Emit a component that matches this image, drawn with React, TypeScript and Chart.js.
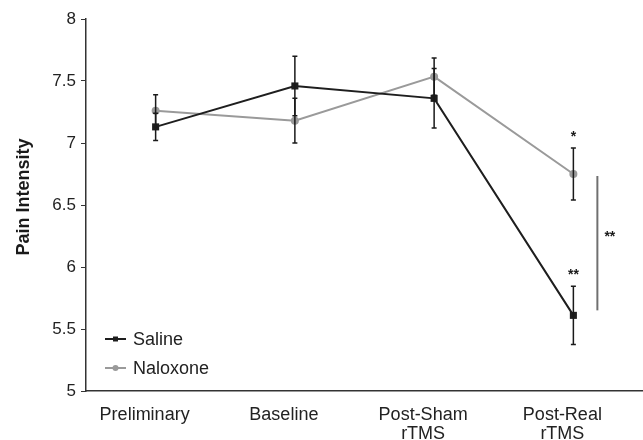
import React, { useEffect, useRef } from "react";
import { Chart, registerables } from "chart.js";

Chart.register(...registerables);

const categories: string[][] = [["Preliminary"], ["Baseline"], ["Post-Sham", "rTMS"], ["Post-Real", "rTMS"]];
const salineValues = [7.13, 7.46, 7.36, 5.61];
const salineErrors = [0.11, 0.24, 0.24, 0.235];
const naloxoneValues = [7.26, 7.18, 7.535, 6.75];
const naloxoneErrors = [0.13, 0.18, 0.15, 0.21];
const yMin = 5;
const yMax = 8;
const yStep = 0.5;
const seriesNames = ["Saline", "Naloxone"];
const starLabels = ["*", "**"]; // naloxone, saline marks at Post-Real
const bracketLabel = "**";
const axisTitle = "Pain Intensity";

const SALINE_COLOR = "#1e1e1e";
const NALOXONE_COLOR = "#9a9a9a";
const FONT = "'Liberation Sans', Arial, sans-serif";

const overlayPlugin = {
  id: "overlay",
  afterDatasetsDraw(chart: any) {
    const ctx = chart.ctx;
    const x = chart.scales.x;
    const y = chart.scales.y;
    const errs = [salineErrors, naloxoneErrors];
    const vals = [salineValues, naloxoneValues];
    ctx.save();
    // error bars
    ctx.strokeStyle = "#1a1a1a";
    ctx.lineWidth = 1.5;
    for (let s = 0; s < 2; s++) {
      for (let i = 0; i < categories.length; i++) {
        const px = x.getPixelForValue(i);
        const top = y.getPixelForValue(vals[s][i] + errs[s][i]);
        const bot = y.getPixelForValue(vals[s][i] - errs[s][i]);
        ctx.beginPath();
        ctx.moveTo(px, top);
        ctx.lineTo(px, bot);
        ctx.moveTo(px - 2.5, top);
        ctx.lineTo(px + 2.5, top);
        ctx.moveTo(px - 2.5, bot);
        ctx.lineTo(px + 2.5, bot);
        ctx.stroke();
      }
    }
    // significance marks
    const last = categories.length - 1;
    const lx = x.getPixelForValue(last);
    ctx.fillStyle = "#1a1a1a";
    ctx.font = `bold 14px ${FONT}`;
    ctx.textAlign = "center";
    ctx.textBaseline = "middle";
    const nalTop = y.getPixelForValue(naloxoneValues[last] + naloxoneErrors[last]);
    const salTop = y.getPixelForValue(salineValues[last] + salineErrors[last]);
    ctx.fillText(starLabels[0], lx, nalTop - 11);
    ctx.fillText(starLabels[1], lx, salTop - 11);
    // bracket line
    const y1 = y.getPixelForValue(naloxoneValues[last]) + 2;
    const y2 = y.getPixelForValue(salineValues[last]) - 5;
    ctx.strokeStyle = "#707070";
    ctx.lineWidth = 2;
    ctx.beginPath();
    ctx.moveTo(lx + 24, y1);
    ctx.lineTo(lx + 24, y2);
    ctx.stroke();
    ctx.textAlign = "left";
    ctx.fillText(bracketLabel, lx + 31, (y1 + y2) / 2 - 6);

    // legend
    const legendX = chart.chartArea.left + 19;
    const legendY = [339, 368];
    const colors = [SALINE_COLOR, NALOXONE_COLOR];
    ctx.font = `18px ${FONT}`;
    ctx.textAlign = "left";
    ctx.textBaseline = "middle";
    for (let s = 0; s < 2; s++) {
      const ly = legendY[s];
      ctx.strokeStyle = colors[s];
      ctx.fillStyle = colors[s];
      ctx.lineWidth = 2;
      ctx.beginPath();
      ctx.moveTo(legendX, ly);
      ctx.lineTo(legendX + 21, ly);
      ctx.stroke();
      ctx.beginPath();
      if (s === 0) ctx.rect(legendX + 10.5 - 2.5, ly - 2.5, 5, 5);
      else ctx.arc(legendX + 10.5, ly, 3, 0, Math.PI * 2);
      ctx.fill();
      ctx.fillStyle = "#222";
      ctx.fillText(seriesNames[s], legendX + 28, ly + 1);
    }

    // y-axis title
    ctx.save();
    ctx.translate(24, 197);
    ctx.rotate(-Math.PI / 2);
    ctx.font = `bold 18px ${FONT}`;
    ctx.textAlign = "center";
    ctx.textBaseline = "middle";
    ctx.fillStyle = "#1a1a1a";
    ctx.fillText(axisTitle, 0, 0);
    ctx.restore();

    ctx.restore();
  },
};

export default function App() {
  const ref = useRef<HTMLCanvasElement | null>(null);
  useEffect(() => {
    document.body.style.margin = "0";
    const canvas = ref.current;
    if (!canvas) return;
    const chart = new Chart(canvas, {
      type: "line",
      data: {
        labels: categories,
        datasets: [
          {
            label: seriesNames[0],
            data: salineValues,
            borderColor: SALINE_COLOR,
            backgroundColor: SALINE_COLOR,
            borderWidth: 2,
            pointStyle: "rect",
            pointRadius: 5,
            pointBorderWidth: 0,
            pointHoverRadius: 5,
            tension: 0,
          },
          {
            label: seriesNames[1],
            data: naloxoneValues,
            borderColor: NALOXONE_COLOR,
            backgroundColor: NALOXONE_COLOR,
            borderWidth: 2,
            pointStyle: "circle",
            pointRadius: 4,
            pointBorderWidth: 0,
            pointHoverRadius: 4,
            tension: 0,
          },
        ],
      },
      options: {
        animation: false,
        responsive: false,
        devicePixelRatio: 1,
        layout: { padding: { top: 19, right: 0, left: 0, bottom: 0 } },
        plugins: {
          legend: { display: false },
          tooltip: { enabled: false },
          title: { display: false },
        },
        scales: {
          x: {
            type: "category",
            offset: true,
            grid: { display: false },
            border: { display: true, color: "#333", width: 1.5 },
            ticks: {
              color: "#222",
              font: { family: FONT, size: 18, lineHeight: 1.08 },
              padding: 6,
              maxRotation: 0,
              autoSkip: false,
              labelOffset: -11,
            },
            afterFit(scale: any) {
              scale.height = 49;
              scale.paddingLeft = 0;
              scale.paddingRight = 0;
            },
          },
          y: {
            min: yMin,
            max: yMax,
            grid: {
              drawOnChartArea: false,
              drawTicks: true,
              tickLength: 5,
              color: "#333",
            },
            border: { display: true, color: "#333", width: 1.5 },
            ticks: {
              stepSize: yStep,
              color: "#222",
              font: { family: FONT, size: 17 },
              padding: 5,
              callback: (v: any) => String(v),
            },
            afterFit(scale: any) {
              scale.width = 86;
            },
          },
        },
      },
      plugins: [overlayPlugin],
    });
    return () => chart.destroy();
  }, []);
  return (
    <div style={{ width: 643, height: 440, overflow: "hidden" }}>
      <canvas ref={ref} width={648} height={440} style={{ display: "block" }} />
    </div>
  );
}
